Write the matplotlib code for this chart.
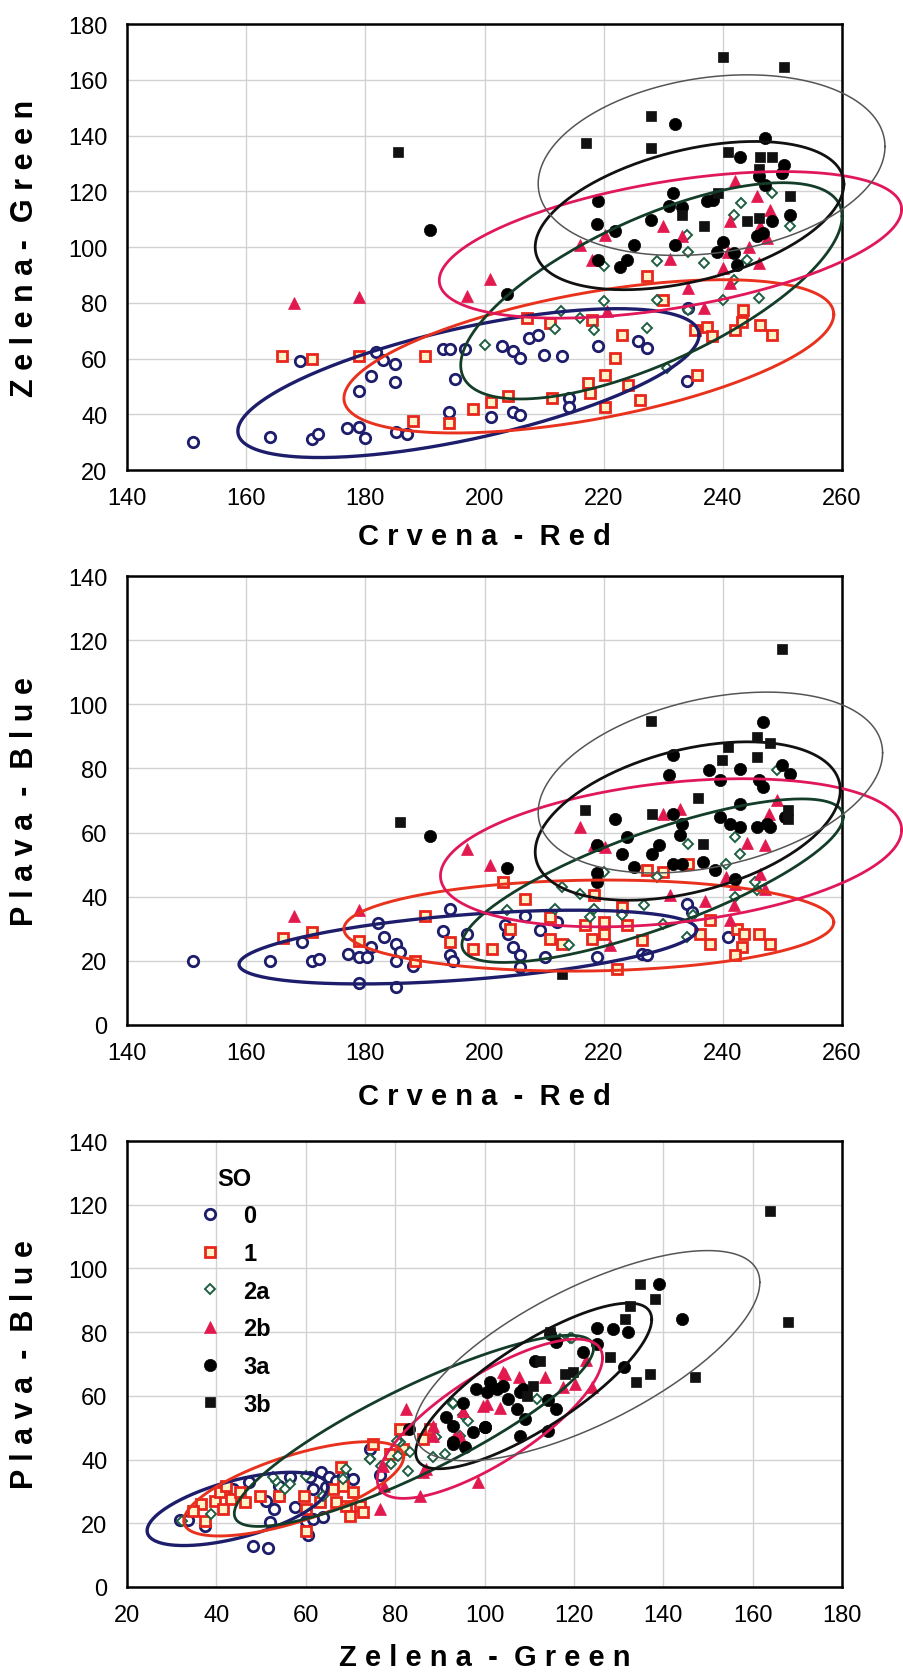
import numpy as np
import matplotlib
matplotlib.use("Agg")
import matplotlib.pyplot as plt

# --- data -------------------------------------------------------------------
groups = ["0", "1", "2a", "2b", "3a", "3b"]

# panel 1: Crvena (R) vs Zelena (G)
rg_0 = [(151, 30), (164, 32), (171, 31), (172, 33), (169, 59), (177, 35), (179, 35.5), (180, 31.4),
        (181.8, 62.5), (183, 59.6), (185, 58), (181, 53.6), (185, 51.7), (179, 48.5), (185.2, 33.5),
        (187, 33), (193, 63.4), (194.2, 63.4), (196.7, 63.4), (195, 52.7), (194, 40.7), (201, 39),
        (203, 64.6), (204.8, 62.6), (206, 60.2), (207.4, 67.3), (209, 68.6), (209.9, 61.4), (213, 60.8),
        (219.1, 64.4), (225.8, 66.2), (227.2, 63.8), (234.2, 78.1), (233.9, 51.8), (214.1, 45.8),
        (214.1, 42.8), (204.8, 41), (206, 39.8)]
rg_1 = [(166, 61), (171, 60), (179, 61), (190, 61), (188, 37.7), (194, 37), (198, 42), (201, 44.3),
        (227.2, 89.5), (230, 81.1), (207.1, 74.5), (211, 72.7), (218, 73.9), (223, 68.6), (221.9, 60.2),
        (220.2, 54.2), (224.1, 50.6), (217.3, 51.2), (217.7, 47.5), (211.3, 45.8), (220.2, 42.8),
        (226.1, 45.2), (235.6, 54.2), (235.3, 70.3), (237.3, 71.5), (238.1, 68), (242, 70.3),
        (243.2, 73.3), (243.4, 77.5), (246.2, 72.1), (248.2, 68.6), (204, 46.4)]
rg_2a = [(243, 115.8), (241.8, 111.6), (251.3, 107.4), (248.2, 119.4), (233.9, 104.4), (234.2, 98.4),
         (228.9, 94.9), (220, 93.1), (236.9, 94.3), (244, 95.5), (241.8, 88.3), (240.1, 81.1),
         (246, 81.7), (228.9, 81.1), (234.2, 77.5), (220, 80.5), (212.9, 76.9), (216, 74.5),
         (211.8, 70.6), (218.3, 70.3), (227.2, 70.9), (230.6, 56.6), (200, 64.8)]
rg_2b = [(168, 80), (179, 82), (197, 82.6), (200.9, 88.5), (242, 123.6), (245.7, 118.4), (247.9, 113.4),
         (241.2, 109.2), (230, 107.4), (246.2, 107.4), (247.4, 103.2), (233.1, 103.8), (220.2, 104.4),
         (216, 100.8), (218, 95.5), (231.1, 95.7), (240.9, 98.4), (244.3, 100.2), (240.1, 92.5),
         (241.2, 87.1), (234.2, 85.3), (246, 94.3), (220.5, 76.9), (236.9, 78.1)]
rg_3a = [(190.8, 106.2), (203.8, 83.2), (232, 144.2), (247, 139.1), (242.9, 132.3), (250.2, 129.5),
         (250, 126.5), (246.1, 125.4), (247, 122.4), (231.7, 119.4), (219.1, 116.4), (230.9, 114.6),
         (233.1, 114.3), (237.3, 116.4), (238.4, 117), (228, 109.6), (218.9, 108.4), (221.9, 105.6),
         (225, 100.8), (232, 100.8), (219.1, 95.2), (222.7, 92.8), (223.9, 95.5), (239, 98.4),
         (240.1, 101.7), (245.7, 103.8), (246.8, 105), (251.3, 111.6), (248.2, 109.2), (242.3, 93.7),
         (241.8, 97.8)]
rg_3b = [(185.5, 134), (240, 168.2), (250.2, 164.6), (227.9, 147.1), (217.1, 137.3), (227.9, 135.5),
         (240.9, 134), (246.2, 132.3), (248.2, 132.3), (251.3, 118.2), (233.1, 111.6), (236.9, 107.4),
         (244, 109.2), (246, 110.4), (239.1, 119.4), (246, 128)]

# panel 2: Crvena (R) vs Plava (B)
rb_0 = [(151, 20), (164, 20), (169.3, 26), (171.1, 20), (172.3, 20.7), (177.1, 22.1), (179, 21.1),
        (180.2, 21.1), (179, 13.1), (185.2, 11.7), (182.1, 31.8), (183.2, 27.3), (185.2, 25.3),
        (185.8, 22.9), (185.2, 20), (188, 18.5), (181, 24.2), (193, 29.4), (194.2, 36.2), (197, 28.4),
        (194.2, 21.8), (194.7, 20), (204, 28.4), (203.4, 31.1), (206.8, 33.9), (209.3, 29.5),
        (212.1, 32.1), (204.8, 24.3), (206, 21.7), (210.2, 21.2), (218.8, 21.2), (233.9, 37.8),
        (234.8, 35.2), (226.4, 22.2), (227.2, 21.7), (240.9, 27.4), (206, 18.1)]
rb_1 = [(166.2, 27), (171.1, 29.1), (179, 26.3), (188.3, 20.1), (190, 34.1), (194.2, 26), (198.1, 23.7),
        (201.2, 23.7), (203.1, 44.5), (227.2, 48.4), (230, 47.7), (234.2, 50.3), (206.8, 39.4),
        (218.3, 40.4), (223, 36.8), (211, 33.7), (216.9, 31.1), (220, 32.1), (223.9, 31.1), (220, 28.5),
        (218, 26.9), (226.4, 26.4), (211, 26.9), (213, 25.4), (204.3, 30), (222.2, 17.6), (236.2, 28.5),
        (237.9, 25.4), (237.9, 32.6), (242.3, 30), (243.5, 28.5), (246, 28.5), (247.9, 25.4),
        (243.2, 24.3), (242, 21.7)]
rb_2a = [(249, 79.4), (242, 58.6), (242.9, 53.4), (234.2, 56.5), (228.9, 46.2), (220, 47.7), (240.6, 50.3),
         (245.4, 44.6), (245.7, 42), (242, 39.9), (226.7, 37.3), (218.3, 36.3), (217.7, 33.7), (213, 43),
         (216, 41), (235, 34.2), (230, 31.6), (223, 34.2), (203.7, 35.8), (211.8, 36.3), (214.1, 24.8),
         (233.9, 27.4)]
rb_2b = [(168, 34.1), (179, 36), (197, 54.9), (200.9, 49.9), (216, 61.7), (218.3, 56), (220.2, 55.5),
         (229.9, 65.9), (232.8, 67.2), (249, 70.3), (247.8, 65.9), (244, 56.8), (247.1, 56), (237, 38.7),
         (231.1, 40.4), (240.6, 46.2), (242, 44.1), (241.8, 37.3), (246.2, 47.2), (247.1, 42.5),
         (241.2, 32.6), (221, 24.8)]
rb_3a = [(190.8, 59), (203.8, 48.9), (246.8, 94.5), (231.7, 84.1), (230.9, 77.9), (237.7, 79.4),
         (239.5, 76.3), (242.8, 79.9), (249.9, 81), (251.3, 78.4), (246, 76.3), (246.8, 74.2), (242.9, 69),
         (239.5, 64.9), (241.2, 62.8), (242.9, 61.7), (245.7, 61.7), (247.4, 62.8), (247.9, 61.7),
         (250.4, 64.9), (231.7, 65.9), (233.1, 62.8), (232.8, 59.1), (221.9, 64.3), (223.9, 58.6),
         (218.8, 56), (229.2, 56), (228.1, 53.4), (223, 53.4), (225, 49.3), (231.7, 50.3), (233.1, 50.3),
         (236.7, 50.8), (238.7, 48.2), (218.8, 47.3), (218.8, 44.6), (242, 45.6)]
rb_3b = [(185.8, 63.4), (249.9, 117.4), (227.9, 94.8), (240.8, 86.7), (245.7, 89.8), (247.9, 87.9),
         (245.7, 83.6), (239.8, 82.7), (235.9, 70.9), (216.9, 66.9), (228.1, 65.9), (251, 66.9),
         (251, 64.3), (236.7, 56.5), (213, 16)]

# panel 3: Zelena (G) vs Plava (B)
gb_0 = [(31.8, 21.1), (33.6, 21.1), (37.4, 19.2), (48.2, 13), (51.5, 12.1), (51.2, 27.1), (53, 24.5),
        (54.1, 28.7), (57.5, 25), (51.9, 20.3), (56.4, 34.4), (60.9, 34.4), (63.5, 36), (65.3, 34.4),
        (66.8, 33.4), (68.3, 34.9), (61.6, 30.8), (64.6, 31.3), (60.1, 20.8), (61.6, 21.3), (63.8, 21.9),
        (60.5, 16.3), (70.6, 33.9), (74.3, 43.3), (47.4, 32.8), (54.1, 31.8), (43.7, 30.8), (76.5, 35.1)]
gb_1 = [(36.6, 26), (34.8, 24), (37.4, 20.8), (39.6, 27.1), (40.7, 29.7), (42.2, 31.8), (43.3, 27.6),
        (45.2, 29.7), (46.3, 26.6), (41.5, 24.5), (49.7, 28.7), (54.1, 28.7), (59.7, 28.7), (60.1, 24.5),
        (60.1, 17.7), (63.1, 26.6), (66.1, 30.8), (68.3, 31.8), (70.6, 29.7), (69.1, 25.5), (66.8, 26.6),
        (72.1, 25.5), (67.9, 37.6), (69.8, 22.4), (72.8, 23.4), (75, 44.9), (78.8, 41.7), (81, 49.6),
        (81.7, 43.3), (86.2, 46.4), (87.7, 49.6)]
gb_2a = [(32.2, 20.8), (38.9, 22.9), (53.4, 33.4), (56.4, 32.3), (60.1, 34.9), (63.8, 28.7), (69.1, 37),
         (74.3, 40.2), (76.9, 38.1), (79.1, 38.6), (82.9, 36.5), (80.6, 41.2), (81, 45.4), (89.2, 47),
         (91.1, 41.7), (94.4, 47.5), (96.3, 52.2), (92.9, 57.4), (95.2, 54), (52.7, 34.4), (55.3, 30.8),
         (93, 57.9), (88.5, 40.7), (119.1, 78.3), (116.9, 77.8), (74.4, 40.2), (80.3, 45.9), (83.3, 42.3),
         (68.4, 33.9), (119.5, 78.3), (111.7, 59)]
gb_2b = [(82.5, 55.9), (76.5, 24.5), (85.5, 28.7), (98.5, 32.8), (88.4, 47.5), (93.3, 47.5), (99.6, 56.9),
         (95.2, 55.3), (86.2, 36), (77.6, 31.8), (122.8, 71.4), (124, 62.7), (117.6, 62.7), (113.5, 65.8),
         (107.6, 65.8), (104.2, 67.4), (100.5, 57.4), (103.5, 56.1), (94.5, 47.5), (104.6, 66.8),
         (120.2, 63.7), (88.5, 50.6), (77.3, 38.1), (87, 37)]
gb_3a = [(83.2, 49.6), (91.4, 53.2), (92.9, 50.6), (95.2, 57.9), (98.1, 62.1), (97.4, 48.5), (100, 50.1),
         (92.9, 44.9), (139.1, 95.1), (144.1, 84.1), (125.1, 81.2), (128.8, 81), (132.2, 80.1),
         (125.1, 76.3), (122.1, 73.9), (131.1, 68.9), (111.3, 71), (114.3, 58.8), (107.2, 55.9),
         (109, 52.7), (107.9, 47.5), (114.3, 49.1), (100.1, 50.1), (100.5, 61.1), (102.7, 62.1),
         (105.3, 59), (107.9, 61.1), (114.6, 79.4), (116.1, 76.8), (101.2, 64.2), (104.2, 63.2),
         (108.7, 62.1), (116.1, 55.9), (95.6, 43.8), (93, 45.4)]
gb_3b = [(163.9, 118.1), (168, 83.1), (134.8, 95.1), (138.1, 90.4), (131.4, 84.1), (128.1, 72.1),
         (137, 66.8), (134, 64.2), (147.1, 65.8), (132.5, 88.3), (118, 66.8), (114.6, 79.9),
         (112.4, 71), (119.9, 67.4), (110.9, 63.2), (109.4, 60)]

# ellipses: centre x, centre y, half x-extent, half y-extent, x-offset of top point
ell_rg = [(197.3, 51.2, 38.7, 26.7, 25), (217.5, 60.8, 41.1, 27.5, 22.5), (228, 84.3, 32, 38.8, 22),
          (231.2, 100.8, 38.8, 26.3, 18.8), (234.4, 111.3, 25.9, 26.6, 11), (238.1, 129.4, 29.1, 32.4, 6)]
ell_rb = [(197.2, 24.3, 38.4, 11.5, 18), (217.5, 31, 41.1, 14.2, 3), (228.2, 45, 32, 25.5, 25),
          (231.3, 53.7, 38.7, 23.1, 12), (234.1, 63.6, 25.6, 24.7, 10), (237.9, 75.6, 28.9, 28.2, 9.5)]
ell_gb = [(44.7, 24.5, 20.2, 11.5, 12), (57.3, 30.8, 24.6, 14.8, 16.7), (84.2, 49, 40.2, 30, 34.8),
          (101.2, 52.8, 25.2, 25, 19.3), (111, 63.1, 26.4, 26, 21.2), (122.9, 72.6, 38.7, 33.0, 27)]

# --- styles ------------------------------------------------------------------
marker_style = [
    dict(marker="o", ms=7.5, mfc="white", mec="#1d1d6b", mew=2.0),
    dict(marker="s", ms=7.5, mfc="#fff4c8", mec="#e8261c", mew=2.0),
    dict(marker="D", ms=5.2, mfc="white", mec="#1f5e40", mew=1.4),
    dict(marker="^", ms=8.5, mfc="#e2194f", mec="#e2194f", mew=0.5),
    dict(marker="o", ms=8.8, mfc="black", mec="black", mew=0.5),
    dict(marker="s", ms=7, mfc="#111111", mec="#111111", mew=0.5),
]
ell_color = ["#1d1d6b", "#e8321e", "#133d28", "#e0185a", "#111111", "#555555"]
ell_lw = [2.4, 2.1, 2.0, 2.0, 2.0, 1.1]

tick_font = ["Liberation Sans Narrow", "Liberation Sans", "DejaVu Sans"]
label_font = ["Liberation Sans", "DejaVu Sans"]


def ellipse_xy(cx, cy, wx, wy, dx):
    cov = np.array([[wx ** 2, dx * wy], [dx * wy, wy ** 2]])
    a = np.linalg.cholesky(cov)
    t = np.linspace(0, 2 * np.pi, 300)
    pts = a @ np.vstack([np.cos(t), np.sin(t)])
    return cx + pts[0], cy + pts[1]


def spaced(s):
    return " ".join(s).replace("   ", "  ")


def draw_panel(ax, point_sets, ells, xlim, ylim, xticks, yticks, xlabel, ylabel, xlab_y):
    ax.set_xlim(*xlim)
    ax.set_ylim(*ylim)
    ax.set_xticks(xticks)
    ax.set_yticks(yticks)
    ax.grid(True, color="#d2d2d2", lw=1.0)
    ax.set_axisbelow(True)
    for sp in ax.spines.values():
        sp.set_linewidth(1.8)
    ax.tick_params(length=0, labelsize=17)
    ax.tick_params(axis="y", pad=14)
    ax.tick_params(axis="x", pad=12)
    for lab in ax.get_xticklabels() + ax.get_yticklabels():
        lab.set_family(tick_font)

    handles = []
    for pts, sty, g in zip(point_sets, marker_style, groups):
        xy = np.array(pts)
        h, = ax.plot(xy[:, 0], xy[:, 1], ls="none", label=g, zorder=3, **sty)
        handles.append(h)
    for e, c, lw in zip(ells, ell_color, ell_lw):
        ex, ey = ellipse_xy(*e)
        ax.plot(ex, ey, color=c, lw=lw, zorder=4, clip_on=False)

    ax.set_xlabel(spaced(xlabel), fontsize=21, fontweight="bold", family=label_font, va="center")
    ax.set_ylabel(spaced(ylabel), fontsize=22, fontweight="bold", family=label_font, va="center")
    ax.xaxis.set_label_coords(0.5, xlab_y)
    ax.yaxis.set_label_coords(-0.143, 0.5)
    return handles


fig = plt.figure(figsize=(9.04, 16.74), dpi=100)
ax1 = fig.add_axes([0.1405, 0.7186, 0.791, 0.2664])
ax2 = fig.add_axes([0.1405, 0.3871, 0.791, 0.2682])
ax3 = fig.add_axes([0.1405, 0.0514, 0.791, 0.2664])

draw_panel(ax1, [rg_0, rg_1, rg_2a, rg_2b, rg_3a, rg_3b], ell_rg, (140, 260), (20, 180),
           range(140, 261, 20), range(20, 181, 20), "Crvena - Red", "Zelena- Green", -0.147)
draw_panel(ax2, [rb_0, rb_1, rb_2a, rb_2b, rb_3a, rb_3b], ell_rb, (140, 260), (0, 140),
           range(140, 261, 20), range(0, 141, 20), "Crvena - Red", "Plava - Blue", -0.158)
h3 = draw_panel(ax3, [gb_0, gb_1, gb_2a, gb_2b, gb_3a, gb_3b], ell_gb, (20, 180), (0, 140),
                range(20, 181, 20), range(0, 141, 20), "Zelena - Green", "Plava - Blue", -0.158)

leg = ax3.legend(handles=h3, title="SO", loc="upper left", bbox_to_anchor=(0.07, 0.99),
                 frameon=False, labelspacing=0.62, handletextpad=0.9, handlelength=1.0,
                 prop=dict(family=label_font, weight="bold", size=17))
leg.get_title().set_fontweight("bold")
leg.get_title().set_fontsize(17)
leg.get_title().set_family(label_font)
leg.set_zorder(5)

fig.savefig("out.png", dpi=100, facecolor="white")
